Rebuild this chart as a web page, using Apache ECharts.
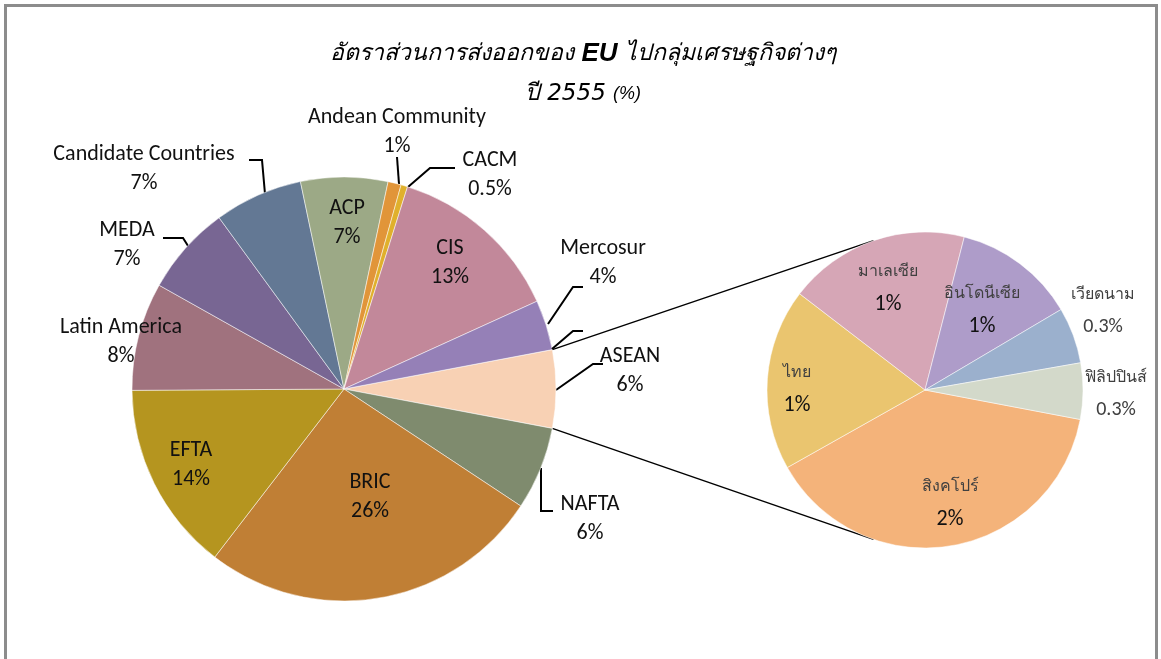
<!DOCTYPE html>
<html>
<head>
<meta charset="utf-8">
<script src="https://cdn.jsdelivr.net/npm/echarts@6/dist/echarts.min.js"></script>
<style>
  html, body { margin: 0; padding: 0; background: #fff; }
  #frame { position: absolute; left: 4px; top: 4px; width: 1148px; height: 700px;
           border: 3px solid #8c8c8c; border-bottom: none; }
  #myGraph { position: absolute; left: 0; top: 0; width: 1161px; height: 659px; }
</style>
</head>
<body>
<div id="frame"></div>
<div id="myGraph"></div>
<script>
// main pie, clockwise from the ASEAN slice
const mainNames = ["ASEAN", "NAFTA", "BRIC", "EFTA", "Latin America", "MEDA",
  "Candidate Countries", "ACP", "Andean Community", "CACM", "CIS", "Mercosur"];
const mainValues = [null, 6.3, 26.0, 14.4, 8.2, 6.8, 6.7, 6.6, 1.0, 0.5, 13.3, 3.8];
const mainColors = ["#F8D1B4", "#7F8B6E", "#C07F35", "#B5951F", "#A0727E", "#786693",
  "#637894", "#9CA986", "#E19539", "#E0B02C", "#C2889A", "#9580B7"];

// ASEAN breakdown, clockwise from Singapore
const subNames = ["สิงคโปร์", "ไทย", "มาเลเซีย", "อินโดนีเซีย", "เวียดนาม", "ฟิลิปปินส์"];
const subValues = [2.3, 1.1, 1.1, 0.74, 0.34, 0.34];
const subColors = ["#F4B37A", "#EAC56F", "#D6A6B6", "#AE9CC9", "#9BB0CD", "#D3D9CA"];

mainValues[0] = subValues.reduce((a, b) => a + b, 0);

const fontEn = "Calibri, Carlito, Lato, 'Open Sans', sans-serif";
const mainC = [344, 389], mainR = 212;
const subC = [925, 390], subR = 158;

// where Excel put the labels (centre of the text block)
const labelPos = {
  "ASEAN": [630, 371], "NAFTA": [590, 519], "BRIC": [370, 497], "EFTA": [191, 465],
  "Latin America": [121, 342], "MEDA": [127, 245], "Candidate Countries": [144, 169],
  "ACP": [347, 223], "Andean Community": [397, 132], "CACM": [490, 175],
  "CIS": [450, 263], "Mercosur": [603, 263],
  "สิงคโปร์": [950, 503], "ไทย": [797, 389], "มาเลเซีย": [888, 288],
  "อินโดนีเซีย": [982, 310], "เวียดนาม": [1103, 311], "ฟิลิปปินส์": [1116, 394]
};
// leader lines as Excel drew them
const leaders = {
  "ASEAN": [[556, 390], [593, 364], [603, 364]],
  "NAFTA": [[541, 468], [541, 511], [553, 511]],
  "MEDA": [[190, 249], [183, 238], [163, 238]],
  "Candidate Countries": [[265, 194], [262, 160], [249, 160]],
  "Andean Community": [[399, 184], [397, 157], [397, 157]],
  "CACM": [[408, 187], [430, 168], [455, 168]],
  "Mercosur": [[548, 324], [573, 287], [583, 287]]
};
// leftover leader of the deleted "other" label
const stubLeader = [[552, 349], [573, 331], [583, 331]];

function pct(v) {
  return (v > 0.5 ? Math.round(v) : v.toFixed(1)) + "%";
}

let myGraph = document.getElementById("myGraph");
let myChart = echarts.init(myGraph);

let total = mainValues.reduce((a, b) => a + b, 0);
let half = 180 * mainValues[0] / total;

let mainData = mainNames.map((n, i) => {
  let out = !!leaders[n];
  return {
    name: n, value: mainValues[i],
    itemStyle: { color: mainColors[i] },
    label: { position: out ? "outside" : "inside" },
    labelLine: { show: out }
  };
});
let subData = subNames.map((n, i) => ({
  name: n, value: subValues[i],
  itemStyle: { color: subColors[i] }
}));

function layoutLabel(params) {
  let names = params.seriesIndex === 0 ? mainNames : subNames;
  let n = names[params.dataIndex];
  let p = labelPos[n];
  if (!p) return {};
  let res = { x: p[0], y: p[1], align: "center", verticalAlign: "middle" };
  if (leaders[n]) res.labelLinePoints = leaders[n];
  return res;
}

// connector lines from the ASEAN slice to the second pie
const a = half * Math.PI / 180;
const b = 109 * Math.PI / 180;
const p1 = [mainC[0] + mainR * Math.cos(a), mainC[1] - mainR * Math.sin(a)];
const p2 = [mainC[0] + mainR * Math.cos(a), mainC[1] + mainR * Math.sin(a)];
const q1 = [subC[0] + subR * Math.cos(b), subC[1] - subR * Math.sin(b)];
const q2 = [subC[0] + subR * Math.cos(b), subC[1] + subR * Math.sin(b)];

let option = {
  animation: false,
  title: {
    left: 578, top: 29, textAlign: "center",
    text: "{t|อัตราส่วนการส่งออกของ }{b|EU}{t| ไปกลุ่มเศรษฐกิจต่างๆ}\n{t|ปี 2555 }{s|(%)}",
    textStyle: {
      rich: {
        t: { fontSize: 23, fontStyle: "italic", fontWeight: "normal", color: "#000", fontFamily: "'DejaVu Sans', sans-serif", lineHeight: 40 },
        b: { fontSize: 26, fontStyle: "italic", fontWeight: "bold", color: "#000", fontFamily: "'Liberation Sans', Arial, sans-serif", lineHeight: 40 },
        s: { fontSize: 18, fontStyle: "italic", fontWeight: "normal", color: "#000", fontFamily: "'Liberation Sans', Arial, sans-serif", lineHeight: 40 }
      }
    }
  },
  graphic: [
    { type: "polyline", shape: { points: [p1, q1] }, style: { stroke: "#000", lineWidth: 1.5 } },
    { type: "polyline", shape: { points: [p2, q2] }, style: { stroke: "#000", lineWidth: 1.5 } },
    { type: "polyline", z: 10, shape: { points: stubLeader }, style: { stroke: "#000", lineWidth: 2, fill: null } }
  ],
  series: [
    {
      type: "pie",
      center: mainC, radius: mainR,
      startAngle: half, clockwise: true,
      avoidLabelOverlap: false,
      data: mainData,
      itemStyle: { borderColor: "#fff", borderWidth: 0.5 },
      label: {
        show: true, overflow: "none",
        formatter: (p) => p.name + "\n" + pct(p.value),
        fontFamily: fontEn, fontSize: 22, color: "#111", lineHeight: 29
      },
      labelLine: { length: 15, length2: 12, lineStyle: { color: "#000", width: 2 } },
      labelLayout: layoutLabel
    },
    {
      type: "pie",
      center: subC, radius: subR,
      startAngle: -10.75, clockwise: true,
      avoidLabelOverlap: false,
      data: subData,
      itemStyle: { borderColor: "#fff", borderWidth: 0.5 },
      label: {
        show: true, position: "inside", overflow: "none",
        formatter: (p) => "{n|" + p.name + "}\n{" + (p.value > 0.5 ? "v" : "g") + "|" + pct(p.value) + "}",
        rich: {
          n: { fontSize: 16, color: "#404040", lineHeight: 32 },
          v: { fontFamily: fontEn, fontSize: 22, color: "#111", lineHeight: 32 },
          g: { fontFamily: fontEn, fontSize: 20, color: "#404040", lineHeight: 32 }
        }
      },
      labelLine: { show: false },
      labelLayout: layoutLabel
    }
  ]
};

myChart.setOption(option);
</script>
</body>
</html>
